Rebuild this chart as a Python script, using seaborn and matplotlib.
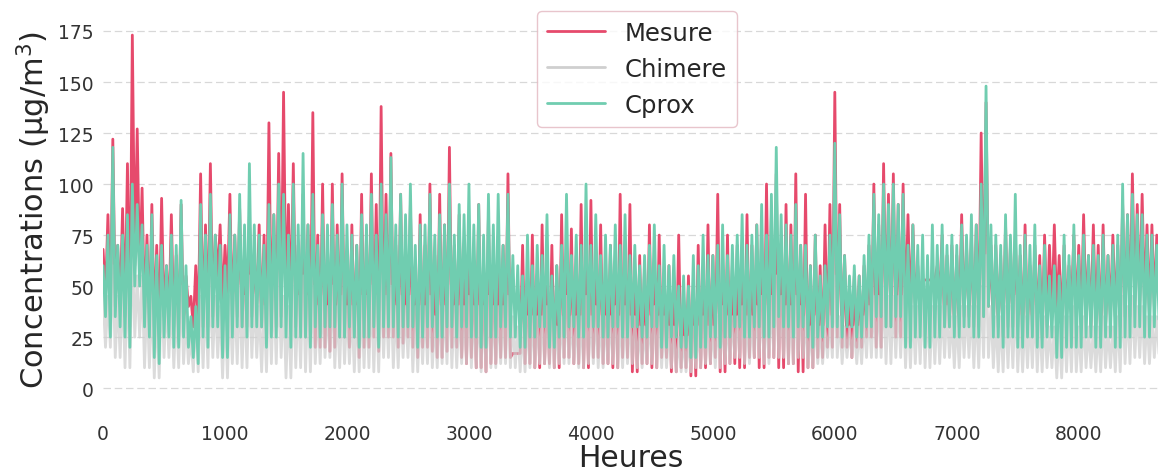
import numpy as np
import pandas as pd
import matplotlib
matplotlib.use("Agg")
import matplotlib.pyplot as plt
import seaborn as sns

# valeurs : pour chaque pas de 40 heures, le haut puis le bas du cycle
mesure_haut = [
    68, 85, 122, 70, 88, 110, 173, 127, 98, 75, 90, 70, 93, 60, 85, 65, 90, 55, 45, 60, 105, 80, 110, 75, 80,
    70, 95, 75, 88, 60, 85, 65, 80, 75, 130, 85, 115, 145, 90, 110, 70, 95, 80, 135, 75, 100, 70, 100, 80, 105,
    65, 80, 70, 95, 75, 105, 90, 138, 95, 115, 70, 95, 65, 90, 60, 85, 70, 100, 65, 95, 80, 118, 70, 85, 60,
    80, 60, 90, 55, 85, 60, 75, 70, 105, 17, 17, 70, 55, 75, 55, 80, 50, 70, 60, 85, 60, 78, 65, 90, 60,
    92, 60, 80, 55, 70, 60, 95, 70, 90, 50, 65, 60, 80, 55, 75, 50, 60, 50, 75, 45, 55, 50, 70, 55, 80,
    65, 95, 55, 75, 60, 70, 65, 85, 70, 80, 75, 100, 85, 105, 70, 90, 80, 105, 70, 95, 60, 75, 60, 80, 90,
    145, 90, 65, 50, 55, 55, 60, 70, 100, 80, 110, 95, 105, 90, 100, 85, 80, 60, 53, 53, 53, 60, 75, 65, 70,
    65, 85, 70, 75, 80, 125, 140, 70, 70, 65, 80, 70, 75, 65, 80, 60, 70, 65, 75, 70, 80, 65, 70, 60, 75,
    70, 85, 65, 80, 70, 80, 65, 75, 70, 90, 85, 105, 90, 95, 80, 80, 75,
]
mesure_bas = [
    45, 35, 40, 40, 35, 30, 60, 55, 35, 30, 30, 25, 35, 35, 30, 25, 30, 40, 30, 30, 30, 30, 35, 55, 40,
    45, 35, 35, 30, 30, 35, 40, 30, 25, 30, 30, 35, 40, 35, 30, 30, 25, 25, 20, 20, 20, 18, 20, 25, 25,
    20, 25, 15, 20, 20, 25, 18, 25, 25, 25, 20, 22, 25, 20, 15, 20, 20, 18, 15, 15, 18, 20, 20, 15, 12,
    15, 10, 10, 8, 12, 12, 15, 15, 15, 17, 17, 12, 12, 10, 10, 12, 12, 10, 10, 15, 15, 12, 12, 10, 10,
    15, 15, 12, 12, 10, 10, 15, 15, 8, 8, 12, 12, 10, 10, 15, 15, 8, 8, 10, 10, 6, 6, 10, 10, 12,
    15, 8, 8, 12, 12, 10, 10, 15, 15, 10, 10, 15, 15, 10, 10, 12, 12, 8, 8, 10, 10, 15, 15, 20, 20,
    25, 20, 20, 15, 20, 20, 25, 25, 20, 20, 30, 30, 25, 25, 35, 35, 40, 40, 53, 53, 53, 45, 30, 30, 30,
    30, 35, 35, 30, 30, 35, 40, 30, 30, 25, 30, 30, 30, 25, 30, 30, 30, 25, 30, 35, 35, 30, 35, 40, 35,
    30, 35, 30, 30, 25, 30, 35, 35, 30, 35, 35, 40, 40, 40, 35, 40, 40,
]
chimere_haut = [
    45, 45, 60, 45, 50, 55, 70, 55, 55, 45, 45, 40, 50, 45, 45, 40, 50, 35, 25, 35, 45, 45, 55, 45, 40,
    40, 45, 45, 50, 45, 55, 45, 40, 40, 50, 50, 55, 45, 40, 50, 45, 55, 45, 50, 40, 45, 40, 50, 40, 45,
    40, 40, 40, 45, 45, 50, 45, 55, 45, 50, 40, 45, 40, 45, 40, 40, 40, 45, 35, 40, 40, 50, 40, 40, 40,
    45, 40, 40, 40, 45, 40, 40, 40, 45, 35, 30, 30, 35, 35, 35, 35, 40, 35, 30, 35, 45, 35, 35, 35, 45,
    35, 40, 35, 35, 35, 40, 35, 40, 35, 35, 30, 30, 35, 40, 35, 35, 30, 30, 25, 25, 25, 30, 30, 35, 30,
    30, 35, 40, 35, 35, 35, 40, 35, 35, 40, 45, 40, 45, 55, 45, 40, 40, 45, 40, 35, 30, 35, 30, 30, 35,
    55, 35, 30, 30, 30, 30, 35, 40, 45, 45, 50, 45, 45, 45, 45, 40, 40, 40, 45, 40, 40, 40, 40, 40, 35,
    35, 40, 40, 40, 40, 50, 65, 40, 35, 35, 40, 40, 45, 35, 35, 35, 40, 35, 35, 30, 30, 30, 35, 35, 40,
    30, 35, 30, 30, 30, 35, 30, 30, 35, 45, 40, 45, 40, 40, 35, 35, 35,
]
chimere_bas = [
    20, 20, 15, 15, 10, 10, 25, 25, 10, 10, 5, 5, 15, 15, 10, 10, 12, 12, 8, 8, 10, 10, 15, 15, 5,
    5, 12, 12, 10, 10, 15, 15, 8, 8, 12, 12, 15, 5, 5, 10, 10, 8, 8, 12, 12, 15, 15, 10, 10, 12,
    12, 8, 8, 10, 10, 8, 8, 15, 15, 10, 10, 15, 15, 8, 8, 12, 12, 10, 10, 12, 12, 10, 10, 12, 12,
    10, 10, 8, 8, 10, 10, 12, 12, 10, 10, 8, 8, 10, 10, 12, 12, 10, 10, 12, 12, 12, 12, 10, 10, 12,
    12, 10, 10, 12, 12, 10, 10, 12, 12, 10, 10, 12, 12, 10, 10, 10, 10, 8, 8, 8, 8, 10, 10, 12, 12,
    10, 10, 12, 12, 15, 15, 12, 12, 15, 15, 12, 12, 15, 15, 15, 12, 12, 15, 15, 10, 10, 12, 12, 15, 15,
    15, 12, 15, 15, 12, 12, 15, 15, 15, 15, 12, 12, 15, 15, 10, 10, 12, 12, 10, 10, 12, 12, 15, 15, 10,
    10, 15, 15, 10, 10, 15, 15, 10, 8, 8, 10, 10, 8, 8, 10, 10, 8, 8, 10, 10, 5, 5, 8, 8, 8,
    8, 10, 10, 8, 8, 10, 10, 8, 8, 12, 12, 15, 15, 12, 12, 15, 15,
]
cprox_haut = [
    60, 75, 118, 70, 75, 85, 100, 90, 80, 70, 85, 65, 70, 60, 75, 70, 92, 60, 35, 40, 90, 75, 95, 75, 70,
    60, 85, 75, 95, 80, 110, 80, 75, 70, 90, 85, 100, 95, 75, 100, 80, 115, 80, 95, 70, 85, 80, 90, 75, 100,
    80, 75, 70, 85, 80, 95, 75, 100, 85, 113, 80, 95, 85, 100, 70, 80, 80, 95, 75, 85, 80, 100, 75, 90, 85,
    100, 80, 90, 75, 95, 80, 95, 70, 95, 65, 60, 55, 75, 60, 70, 65, 85, 55, 60, 70, 95, 65, 75, 70, 100,
    70, 85, 65, 75, 70, 80, 70, 85, 65, 70, 60, 65, 70, 80, 60, 70, 60, 65, 50, 55, 50, 65, 60, 75, 65,
    65, 70, 80, 65, 70, 75, 85, 70, 75, 80, 90, 75, 95, 118, 85, 80, 75, 90, 70, 70, 60, 75, 55, 60, 75,
    120, 85, 65, 55, 60, 55, 65, 75, 95, 85, 100, 90, 100, 90, 95, 70, 80, 70, 75, 65, 80, 70, 80, 70, 75,
    70, 80, 75, 85, 80, 100, 148, 80, 75, 70, 85, 75, 95, 70, 75, 70, 80, 60, 70, 55, 60, 55, 75, 65, 80,
    65, 75, 65, 70, 65, 75, 65, 70, 75, 100, 85, 95, 85, 85, 75, 75, 70,
]
cprox_bas = [
    35, 25, 35, 30, 25, 20, 50, 50, 30, 25, 15, 12, 25, 25, 20, 20, 25, 20, 15, 12, 25, 20, 30, 30, 15,
    15, 25, 30, 30, 25, 30, 30, 30, 20, 25, 25, 30, 25, 20, 25, 25, 25, 20, 30, 25, 30, 30, 30, 25, 25,
    30, 25, 20, 25, 25, 30, 20, 30, 30, 30, 25, 30, 30, 30, 20, 25, 30, 30, 25, 25, 30, 30, 25, 30, 30,
    25, 25, 20, 20, 25, 25, 30, 30, 25, 25, 20, 20, 25, 25, 30, 30, 20, 20, 25, 25, 30, 30, 25, 25, 30,
    30, 30, 25, 25, 30, 30, 25, 25, 30, 30, 25, 25, 30, 30, 20, 20, 25, 25, 20, 20, 15, 15, 20, 20, 25,
    25, 20, 25, 25, 30, 30, 25, 25, 30, 30, 25, 25, 30, 35, 30, 30, 25, 30, 30, 25, 20, 25, 25, 30, 30,
    30, 25, 30, 30, 25, 25, 30, 30, 35, 35, 30, 30, 35, 35, 20, 20, 25, 25, 20, 20, 25, 25, 30, 30, 25,
    25, 30, 30, 25, 25, 35, 40, 25, 25, 20, 25, 25, 20, 20, 25, 25, 20, 20, 25, 25, 15, 15, 20, 20, 20,
    20, 25, 25, 20, 20, 25, 25, 20, 20, 25, 25, 30, 30, 25, 25, 30, 30,
]
heures_pas = np.arange(len(mesure_haut)) * 40


def serie(haut, bas):
    # alterne haut (à t) et bas (à t + 20 h) comme le cycle horaire de la figure
    x = np.column_stack([heures_pas, heures_pas + 20]).ravel()
    y = np.column_stack([haut, bas]).ravel()
    return pd.DataFrame({"Heures": x, "Concentration": y})


df_mesure = serie(mesure_haut, mesure_bas)
df_chimere = serie(chimere_haut, chimere_bas)
df_cprox = serie(cprox_haut, cprox_bas)

sns.set_style("white")
plt.rcParams["font.family"] = ["DejaVu Sans"]

fig = plt.figure(figsize=(11.58, 4.77), dpi=100)
ax = fig.add_axes([0.089, 0.138, 0.911, 0.842])

sns.lineplot(data=df_mesure, x="Heures", y="Concentration", color="#e64a6c", lw=2.0, label="Mesure", ax=ax)
sns.lineplot(data=df_chimere, x="Heures", y="Concentration", color="#cfcfcf", alpha=0.75, lw=2.0,
             label="Chimere", ax=ax)
sns.lineplot(data=df_cprox, x="Heures", y="Concentration", color="#70cdb0", lw=2.0, label="Cprox", ax=ax)

ax.set_xlim(0, 8650)
ax.set_ylim(-10.8, 186)
ax.set_yticks([0, 25, 50, 75, 100, 125, 150, 175])
ax.set_xticks([0, 1000, 2000, 3000, 4000, 5000, 6000, 7000, 8000])
ax.yaxis.grid(True, color="#d8d8d8", linestyle=(0, (6, 3)), lw=0.9)
ax.set_axisbelow(True)
sns.despine(ax=ax, left=True, bottom=True)
ax.tick_params(axis="both", labelsize=13.5, labelcolor="#333333", length=3, color="#999999", width=0.8)
ax.tick_params(axis="x", pad=7)

ax.set_xlabel("Heures", fontsize=21.5, labelpad=0)
ax.set_ylabel("Concentrations (µg/m$^3$)", fontsize=22)

leg = ax.legend(loc="upper center", bbox_to_anchor=(0.506, 1.0), borderaxespad=0.1,
                fontsize=17.5, handlelength=2.4, frameon=True)
leg.get_frame().set_edgecolor("#e3b7c0")
for line in leg.get_lines():
    line.set_linewidth(2)
    line.set_alpha(1)

fig.savefig("out.png", dpi=100)
